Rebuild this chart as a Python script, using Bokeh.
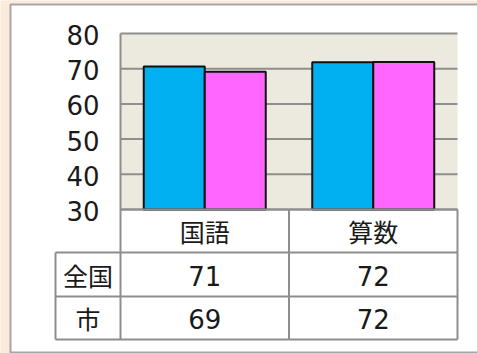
from bokeh.plotting import figure
from bokeh.models import Range1d
from bokeh.embed import file_html
from bokeh.resources import INLINE
from bokeh.core.properties import value

# ---- data ----
categories = ["国語", "算数"]
series_names = ["全国", "市"]
zenkoku = [70.6, 71.8]
shi = [69.1, 71.9]
y_ticks = [30, 40, 50, 60, 70, 80]

# ---- layout (pixels) ----
W, H = 477, 353
PL, PR, PT, PB = 120, 457, 33, 209
Y0, Y1 = 30, 80
ROW_Y = [209, 252, 296, 339]
LABEL_L = 55
BAR_W = 0.362

ysc = (PB - PT) / (Y1 - Y0)
n = len(categories)
xsc = (PR - PL) / n

BG = "#FCEADB"
PLOT_BG = "#ECE9DF"
GRID = "#8E8E8E"
COLORS = ["#00B0F0", "#FF66FF"]
NUM_FONT = value("DejaVu Sans")
JP_FONT = value("Noto Sans CJK JP")
FS = "25px"
NFS = "26px"
TXT = "#1A1A1A"

p = figure(width=W, height=H, output_backend="svg", toolbar_location=None,
           x_range=Range1d(-PL / xsc, n + (W - PR) / xsc),
           y_range=Range1d(Y0 - (H - PB) / ysc, Y1 + PT / ysc),
           min_border=0, x_axis_location=None, y_axis_location=None, title=None)
p.extra_x_ranges = {"px": Range1d(0, W)}
p.extra_y_ranges = {"px": Range1d(H, 0)}
p.grid.visible = False
p.outline_line_color = None
p.background_fill_color = BG
p.border_fill_color = BG

# white panel
p.quad(left=[10], right=[W + 20], top=[4], bottom=[352], x_range_name="px", y_range_name="px",
       fill_color="white", line_color="#A6A6A6", line_width=2)
# plot area
p.quad(left=[PL], right=[PR], top=[PT], bottom=[PB], x_range_name="px", y_range_name="px",
       fill_color=PLOT_BG, line_color=None)
# gridlines
p.segment(x0=[PL] * len(y_ticks), x1=[PR] * len(y_ticks), y0=y_ticks, y1=y_ticks,
          x_range_name="px", line_color=GRID, line_width=2)

# bars
centers = [i + 0.5 for i in range(n)]
for k, (vals, col) in enumerate(zip([zenkoku, shi], COLORS)):
    off = (k - 0.5) * BAR_W
    p.vbar(x=[c + off for c in centers], top=vals, bottom=Y0, width=BAR_W,
           fill_color=col, line_color="#111111", line_width=2)

# table lines
p.segment(x0=[PL, LABEL_L, LABEL_L, LABEL_L], x1=[PR] * 4, y0=ROW_Y, y1=ROW_Y,
          x_range_name="px", y_range_name="px", line_color=GRID, line_width=2)
p.segment(x0=[LABEL_L, PL], x1=[LABEL_L, PL], y0=[ROW_Y[1], PT], y1=[ROW_Y[-1], ROW_Y[-1]],
          x_range_name="px", y_range_name="px", line_color=GRID, line_width=2)
inner = list(range(1, n + 1))
p.segment(x0=inner, x1=inner, y0=[ROW_Y[0]] * n, y1=[ROW_Y[-1]] * n,
          y_range_name="px", line_color=GRID, line_width=2)

# y tick labels
p.text(x=[99] * len(y_ticks), y=y_ticks, text=[str(t) for t in y_ticks], x_range_name="px",
       text_align="right", text_baseline="middle", y_offset=1.5,
       text_font=NUM_FONT, text_font_size=NFS, text_color=TXT)

# table header
mid = [(ROW_Y[i] + ROW_Y[i + 1]) / 2 for i in range(len(ROW_Y) - 1)]
p.text(x=centers, y=[mid[0]] * n, text=categories, y_range_name="px",
       text_align="center", text_baseline="middle",
       text_font=JP_FONT, text_font_size=FS, text_color=TXT)
# row labels
p.text(x=[(LABEL_L + PL) / 2] * 2, y=mid[1:], text=series_names, x_range_name="px", y_range_name="px",
       text_align="center", text_baseline="middle",
       text_font=JP_FONT, text_font_size=FS, text_color=TXT)
# values
for r, vals in enumerate([zenkoku, shi]):
    p.text(x=centers, y=[mid[r + 1]] * n, text=[f"{v:.0f}" for v in vals], y_range_name="px",
           text_align="center", text_baseline="middle", y_offset=1,
           text_font=NUM_FONT, text_font_size=NFS, text_color=TXT)

open("out.html", "w").write(file_html(p, INLINE))
